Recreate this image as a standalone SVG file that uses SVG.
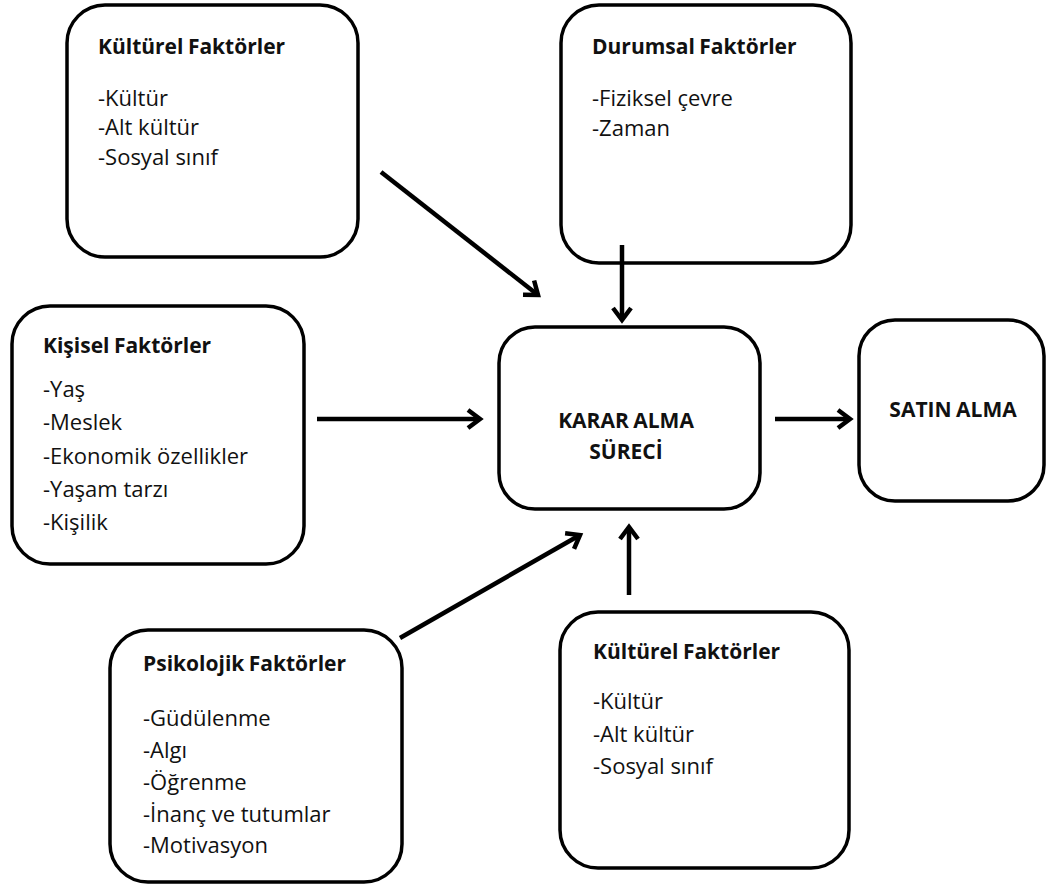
<svg xmlns="http://www.w3.org/2000/svg" width="1047" height="886" viewBox="0 0 1047 886">
<style>
.box{fill:#fff;stroke:#000;stroke-width:3.5}
.t{font-family:"Open Sans","Liberation Sans",sans-serif;font-size:22px;fill:#111}
.h{font-family:"Open Sans","Liberation Sans",sans-serif;font-size:21px;font-weight:bold;fill:#111;word-spacing:-1px}
.c{text-anchor:middle}
.conn{stroke:#000;stroke-width:4.5;fill:none;marker-end:url(#ah)}
</style>
<defs>
<marker id="ah" viewBox="0 0 22 22" refX="17" refY="11" markerWidth="22" markerHeight="22" markerUnits="userSpaceOnUse" orient="auto">
<path d="M5,2 L17,11 L5,20" fill="none" stroke="#000" stroke-width="4.5" stroke-linejoin="miter"/>
</marker>
</defs>
<rect width="1047" height="886" fill="#fff"/>
<g id="kulturel-ust">
<rect class="box" x="67" y="5" width="291" height="252" rx="38"/>
<text class="h" x="98" y="54">Kültürel Faktörler</text>
<text class="t" x="98" y="106">-Kültür</text>
<text class="t" x="98" y="135">-Alt kültür</text>
<text class="t" x="98" y="165">-Sosyal sınıf</text>
</g>
<g id="durumsal">
<rect class="box" x="561" y="5" width="290" height="258" rx="38"/>
<text class="h" x="592" y="54">Durumsal Faktörler</text>
<text class="t" x="592" y="106">-Fiziksel çevre</text>
<text class="t" x="592" y="136">-Zaman</text>
</g>
<g id="kisisel">
<rect class="box" x="12" y="306" width="292" height="258" rx="38"/>
<text class="h" x="43" y="353">Kişisel Faktörler</text>
<text class="t" x="43" y="397">-Yaş</text>
<text class="t" x="43" y="430">-Meslek</text>
<text class="t" x="43" y="464">-Ekonomik özellikler</text>
<text class="t" x="43" y="497">-Yaşam tarzı</text>
<text class="t" x="43" y="530">-Kişilik</text>
</g>
<g id="karar">
<rect class="box" x="499" y="327" width="261" height="182" rx="36"/>
<text class="h c" x="626" y="428">KARAR ALMA</text>
<text class="h c" x="626" y="459">SÜRECİ</text>
</g>
<g id="satin">
<rect class="box" x="859" y="320" width="185" height="181" rx="36"/>
<text class="h c" x="953" y="417">SATIN ALMA</text>
</g>
<g id="psikolojik">
<rect class="box" x="110" y="630" width="292" height="252" rx="38"/>
<text class="h" x="143" y="671">Psikolojik Faktörler</text>
<text class="t" x="143" y="726">-Güdülenme</text>
<text class="t" x="143" y="758">-Algı</text>
<text class="t" x="143" y="790">-Öğrenme</text>
<text class="t" x="143" y="822">-İnanç ve tutumlar</text>
<text class="t" x="143" y="853">-Motivasyon</text>
</g>
<g id="kulturel-alt">
<rect class="box" x="560" y="612" width="289" height="256" rx="38"/>
<text class="h" x="593" y="659">Kültürel Faktörler</text>
<text class="t" x="593" y="709">-Kültür</text>
<text class="t" x="593" y="742">-Alt kültür</text>
<text class="t" x="593" y="774">-Sosyal sınıf</text>
</g>
<g id="connectors">
<line class="conn" x1="381" y1="172" x2="538" y2="295"/>
<line class="conn" x1="622" y1="245" x2="622" y2="320"/>
<line class="conn" x1="317" y1="419" x2="480" y2="419"/>
<line class="conn" x1="775" y1="419" x2="850" y2="419"/>
<line class="conn" x1="400" y1="638" x2="580" y2="535"/>
<line class="conn" x1="629" y1="595" x2="629" y2="527"/>
</g>
</svg>
